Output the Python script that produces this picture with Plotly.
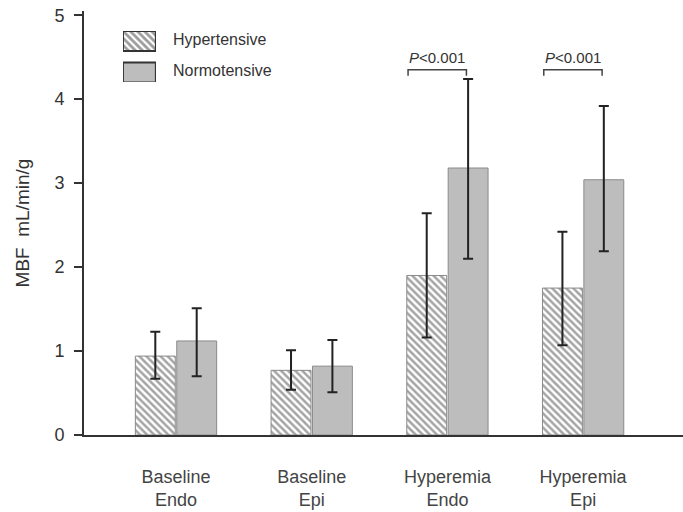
import plotly.graph_objects as go

categories = ["Baseline<br>Endo", "Baseline<br>Epi", "Hyperemia<br>Endo", "Hyperemia<br>Epi"]
hyper_mean = [0.94, 0.77, 1.90, 1.75]
hyper_upper = [1.23, 1.01, 2.64, 2.42]
hyper_lower = [0.67, 0.54, 1.16, 1.07]
normo_mean = [1.12, 0.82, 3.18, 3.04]
normo_upper = [1.51, 1.13, 4.24, 3.92]
normo_lower = [0.70, 0.51, 2.10, 2.19]
series_names = ["Hypertensive", "Normotensive"]
p_groups = [2, 3]
p_labels = ["<i>P</i>&lt;0.001", "<i>P</i>&lt;0.001"]
bracket_y = 4.35
y_ticks = [0, 1, 2, 3, 4, 5]

x = list(range(len(categories)))
FONT = "Liberation Sans, Arial, sans-serif"
TXT = "#333333"

hatch = dict(shape="\\", fgcolor="#4a4a4a", bgcolor="white", size=5, solidity=0.5)
gray = "#bdbdbd"
edge = dict(color="#8a8a8a", width=1)
err_style = dict(color="#222222", thickness=2, width=5)

fig = go.Figure()
fig.add_trace(go.Bar(
    x=x, y=hyper_mean, name=series_names[0], showlegend=False,
    marker=dict(color="white", pattern=hatch, line=edge),
    error_y=dict(type="data", symmetric=False,
                 array=[u - m for u, m in zip(hyper_upper, hyper_mean)],
                 arrayminus=[m - l for m, l in zip(hyper_mean, hyper_lower)],
                 **err_style),
))
fig.add_trace(go.Bar(
    x=x, y=normo_mean, name=series_names[1], showlegend=False,
    marker=dict(color=gray, line=edge),
    error_y=dict(type="data", symmetric=False,
                 array=[u - m for u, m in zip(normo_upper, normo_mean)],
                 arrayminus=[m - l for m, l in zip(normo_mean, normo_lower)],
                 **err_style),
))

# legend boxes drawn as bars on a small auxiliary axis
fig.add_trace(go.Bar(
    x=[1], y=[1], orientation="h", width=0.635, xaxis="x2", yaxis="y2",
    showlegend=False, hoverinfo="skip",
    marker=dict(color="white", pattern=dict(shape="\\", fgcolor="#3a3a3a", bgcolor="white", size=5, solidity=0.55),
                line=dict(color="#333333", width=2)),
))
fig.add_trace(go.Bar(
    x=[1], y=[0], orientation="h", width=0.635, xaxis="x2", yaxis="y2",
    showlegend=False, hoverinfo="skip",
    marker=dict(color=gray, line=dict(color="#333333", width=2)),
))

annotations = [
    dict(xref="paper", yref="paper", x=0.146, y=0.9325, text=series_names[0],
         showarrow=False, xanchor="left", yanchor="middle",
         font=dict(family=FONT, size=16, color=TXT)),
    dict(xref="paper", yref="paper", x=0.146, y=0.8585, text=series_names[1],
         showarrow=False, xanchor="left", yanchor="middle",
         font=dict(family=FONT, size=16, color=TXT)),
]
shapes = []
for g, lab in zip(p_groups, p_labels):
    x0 = g - 0.29
    x1 = g + 0.14
    shapes.append(dict(type="path", xref="x", yref="y",
                       path=f"M {x0},{bracket_y - 0.07} L {x0},{bracket_y} L {x1},{bracket_y} L {x1},{bracket_y - 0.07}",
                       line=dict(color="#444444", width=1.5)))
    annotations.append(dict(xref="x", yref="y", x=(x0 + x1) / 2, y=bracket_y + 0.02,
                            text=lab, showarrow=False, yanchor="bottom",
                            font=dict(family=FONT, size=15, color=TXT)))

fig.update_layout(
    width=683, height=512,
    margin=dict(l=84, r=0, t=11, b=77),
    plot_bgcolor="white", paper_bgcolor="white",
    barmode="group", bargap=0.39, bargroupgap=0.036,
    font=dict(family=FONT, color=TXT),
    xaxis=dict(range=[-0.678, 3.736], tickmode="array", tickvals=x, ticktext=categories,
               showline=True, linecolor="#333333", linewidth=2, ticks="",
               showgrid=False, zeroline=False, ticklabelstandoff=24, automargin=False,
               tickfont=dict(family=FONT, size=18, color="#444444")),
    yaxis=dict(range=[0, 5.05], tickvals=y_ticks, showline=True, linecolor="#333333",
               linewidth=2, ticks="outside", ticklen=8, tickwidth=1.5, tickcolor="#333333",
               showgrid=False, zeroline=False, automargin=False, ticklabelstandoff=6,
               ticklabeloverflow="allow",
               tickfont=dict(family=FONT, size=18, color=TXT),
               title=dict(text="MBF  mL/min/g", standoff=20,
                          font=dict(family=FONT, size=19, color=TXT))),
    xaxis2=dict(domain=[0.065, 0.120], range=[0, 1], visible=False, anchor="y2", fixedrange=True),
    yaxis2=dict(domain=[0.8325, 0.953], range=[-0.30, 1.32], visible=False, anchor="x2", fixedrange=True),
    annotations=annotations,
    shapes=shapes,
)

fig.write_html("out.html", config={"displayModeBar": False},
               post_script="document.body.style.margin='0';document.body.style.padding='0';")
